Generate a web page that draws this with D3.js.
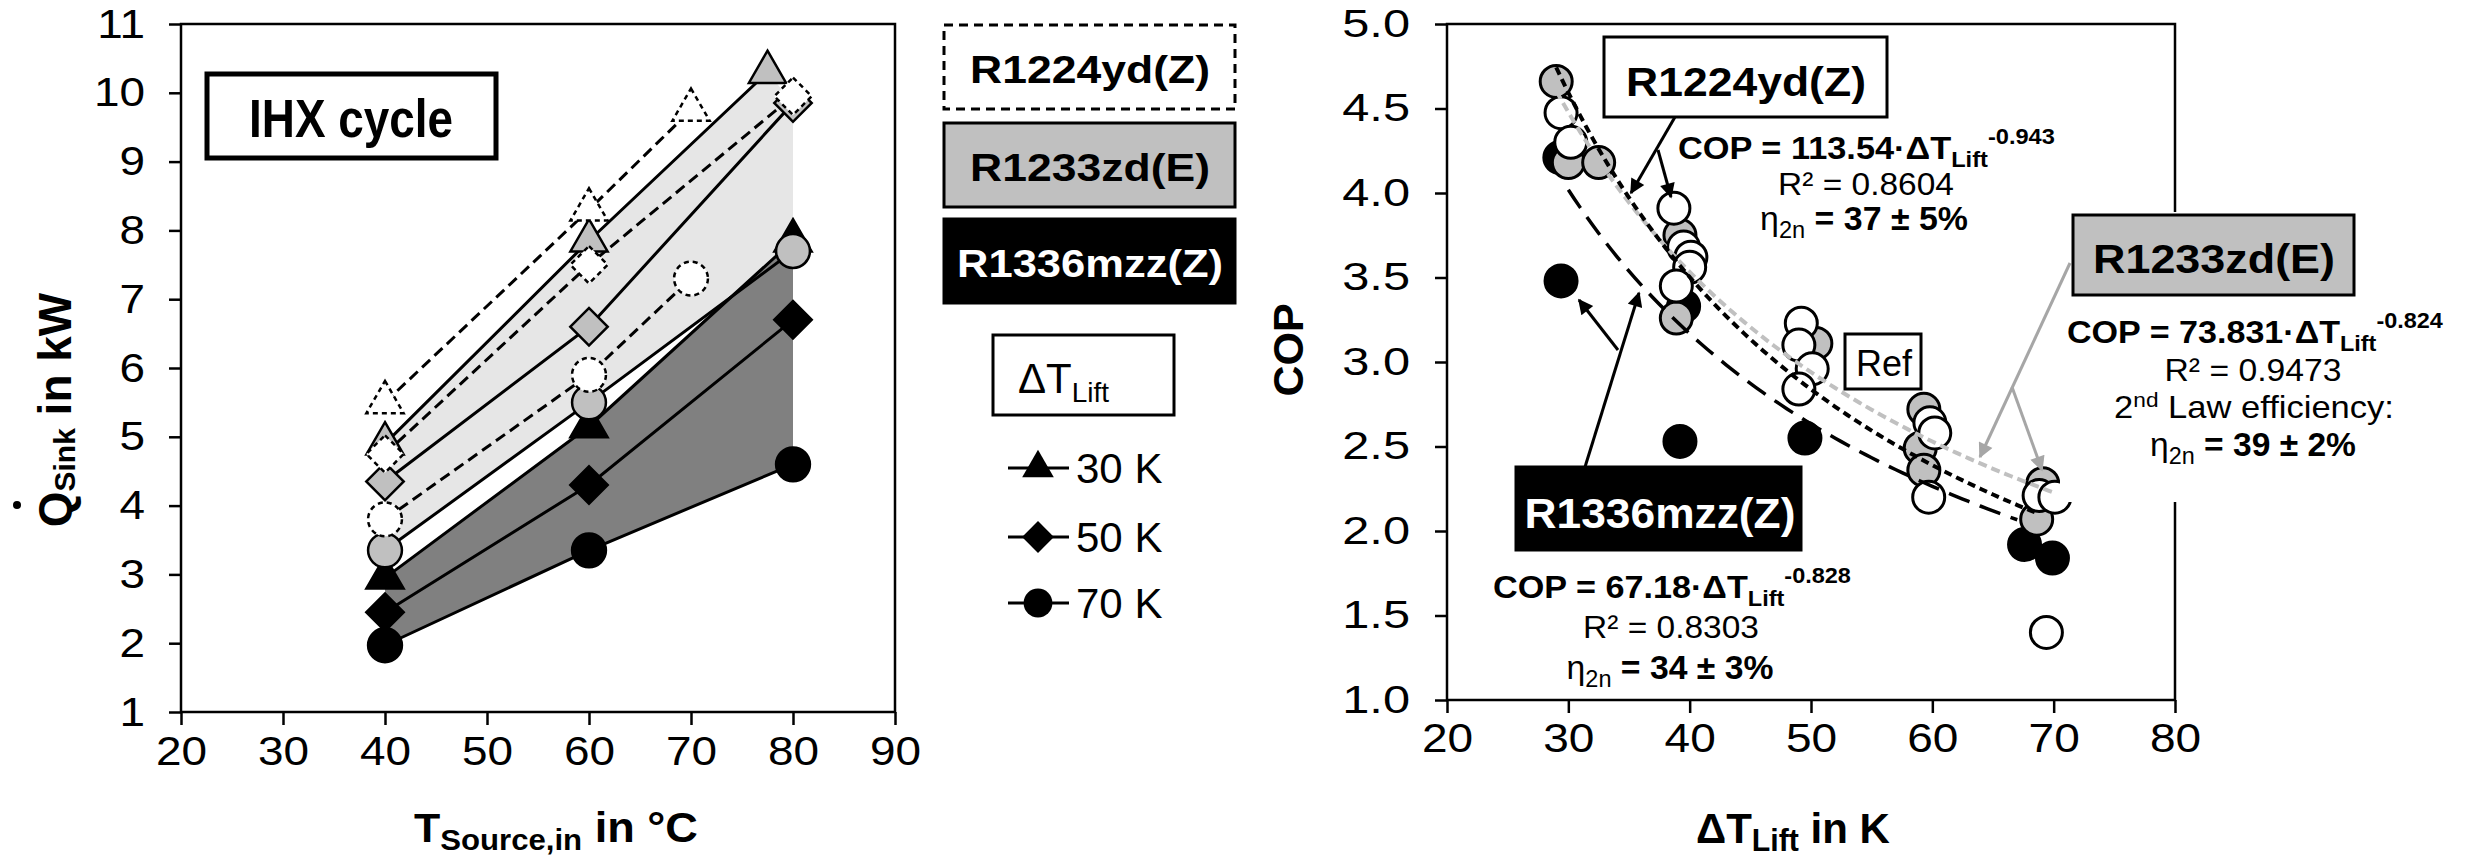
<!DOCTYPE html>
<meta charset="utf-8">
<style>
  body { margin: 0; background: #fff; }
  text { font-family: "Liberation Sans", Arial, sans-serif; }
</style>
<body>
<script src="https://d3js.org/d3.v7.min.js"></script>
<script>
var width = 2468, height = 858;

// ---- left panel: Q_sink vs T_source,in  ([T, Q] per refrigerant and lift)
var r1224_30 = [[40, 5.5], [60, 8.3], [70, 9.75]];
var r1224_50 = [[40, 4.75], [60, 7.5], [80, 9.95]];
var r1224_70 = [[40, 3.8], [60, 5.9], [70, 7.3]];
var r1233_30 = [[40, 4.9], [60, 7.85], [77.5, 10.3]];
var r1233_50 = [[40, 4.35], [60, 6.6], [80, 9.85]];
var r1233_70 = [[40, 3.35], [60, 5.5], [80, 7.7]];
var r1336_30 = [[40, 2.95], [60, 5.15], [80, 7.85]];
var r1336_50 = [[40, 2.45], [60, 4.3], [80, 6.7]];
var r1336_70 = [[40, 1.97], [60, 3.35], [80, 4.6]];
var leftXTicks = [20, 30, 40, 50, 60, 70, 80, 90];
var leftYTicks = [1, 2, 3, 4, 5, 6, 7, 8, 9, 10, 11];
var liftLabels = ["30 K", "50 K", "70 K"];
var refrigerants = ["R1224yd(Z)", "R1233zd(E)", "R1336mzz(Z)"];

// ---- right panel: COP vs lift  ([dT, COP])
var cop_r1336 = [[29.3, 4.21], [29.4, 3.48], [39.5, 3.33], [39.2, 2.53], [49.5, 2.55], [67.6, 1.92], [69.9, 1.84]];
var cop_r1233 = [[29.0, 4.66], [30.0, 4.18], [32.5, 4.18], [39.2, 3.75], [38.9, 3.26], [50.4, 3.11],
                 [59.3, 2.72], [59.0, 2.49], [59.3, 2.36], [69.1, 2.28], [68.6, 2.07]];
var cop_r1224 = [[29.4, 4.475], [30.2, 4.30], [38.7, 3.91], [39.5, 3.68], [40.1, 3.62], [40.0, 3.56],
                 [38.9, 3.45], [49.2, 3.23], [49.0, 3.10], [50.1, 2.96], [49.0, 2.84],
                 [59.8, 2.64], [60.2, 2.58], [59.7, 2.20], [68.8, 2.21], [70.1, 2.20], [69.4, 1.40]];
// power fits shown in the chart: COP = a * dT^b, drawn over [from, to]
var fit_r1224 = [113.54, -0.943, 29, 68.5];
var fit_r1233 = [73.831, -0.824, 29, 70];
var fit_r1336 = [67.18, -0.828, 30, 67];
var rightXTicks = [20, 30, 40, 50, 60, 70, 80];
var rightYTicks = [1.0, 1.5, 2.0, 2.5, 3.0, 3.5, 4.0, 4.5, 5.0];

var GRAY = "#c0c0c0", LIGHT = "#e6e6e6", DARK = "#808080";

var svg = d3.select("body").append("svg")
  .attr("width", width).attr("height", height);

var defs = svg.append("defs");
[["arrowK", "#000"], ["arrowG", "#a6a6a6"]].forEach(function(m) {
  defs.append("marker").attr("id", m[0])
    .attr("viewBox", "0 0 10 10").attr("refX", 9).attr("refY", 5)
    .attr("markerWidth", 6).attr("markerHeight", 5).attr("markerUnits", "strokeWidth")
    .attr("orient", "auto")
    .append("path").attr("d", "M0,0L10,5L0,10z").attr("fill", m[1]);
});

// text helper: parts = [[string, size, bold, dy]], optional target width -> horizontal stretch
function label(parent, x, y, parts, o) {
  o = o || {};
  var g = parent.append("g");
  var t = g.append("text").attr("text-anchor", o.anchor || "start").attr("fill", o.fill || "#000");
  parts.forEach(function(p) {
    t.append("tspan").text(p[0])
      .style("font-size", p[1] + "px")
      .style("font-weight", p[2] ? "bold" : "normal")
      .attr("dy", p[3] || 0);
  });
  var sx = o.sx || 1;
  if (o.width) sx = o.width / t.node().getComputedTextLength();
  g.attr("transform", "translate(" + x + "," + y + ")" + (o.rotate ? " rotate(" + o.rotate + ")" : "") +
    " scale(" + sx + ",1)");
  return g;
}

function stretchTicks(sel, sx) {
  sel.selectAll(".tick text").each(function() {
    var t = d3.select(this);
    t.attr("x", +t.attr("x") / sx).attr("transform", "scale(" + sx + ",1)");
  });
}

// ================= LEFT PANEL =================
var xL = d3.scaleLinear().domain([20, 90]).range([181, 895]);
var yL = d3.scaleLinear().domain([1, 11]).range([712, 24]);
var gL = svg.append("g");

var area = function(top, bottom) {
  return d3.line().x(function(d) { return xL(d[0]); }).y(function(d) { return yL(d[1]); })(top.concat(bottom.slice().reverse())) + "Z";
};
gL.append("path").attr("d", area(r1233_30.concat([r1233_50[2]]), r1233_70)).attr("fill", LIGHT);
gL.append("path").attr("d", area(r1336_30, r1336_70)).attr("fill", DARK);

gL.append("g").attr("transform", "translate(0,712)")
  .call(d3.axisBottom(xL).tickValues(leftXTicks).tickSize(13).tickPadding(11).tickSizeOuter(0))
  .call(function(g) { g.select(".domain").remove(); })
  .call(function(g) { g.selectAll("line").attr("stroke-width", 2.5); g.selectAll("text").style("font-size", "41px"); })
  .call(stretchTicks, 1.12);
gL.append("g").attr("transform", "translate(181,0)")
  .call(d3.axisLeft(yL).tickValues(leftYTicks).tickSize(12).tickPadding(24).tickSizeOuter(0))
  .call(function(g) { g.select(".domain").remove(); })
  .call(function(g) { g.selectAll("line").attr("stroke-width", 2.5); g.selectAll("text").style("font-size", "41px"); })
  .call(stretchTicks, 1.12);
gL.append("rect").attr("x", 181).attr("y", 24).attr("width", 895 - 181).attr("height", 712 - 24)
  .attr("fill", "none").attr("stroke", "#000").attr("stroke-width", 2.5);

var symTri = d3.symbol().type(d3.symbolTriangle).size(600)();
var symDia = d3.symbol().type(d3.symbolSquare).size(700)();
var symCir = d3.symbol().type(d3.symbolCircle).size(900)();
var shapes = [[symTri, 0], [symDia, 45], [symCir, 0]];

var leftSeries = [
  [r1336_30, 0, 2], [r1336_50, 1, 2], [r1336_70, 2, 2],
  [r1233_30, 0, 1], [r1233_50, 1, 1], [r1233_70, 2, 1],
  [r1224_30, 0, 0], [r1224_50, 1, 0], [r1224_70, 2, 0]
];
var fills = ["#fff", GRAY, "#000"];
var lineL = d3.line().x(function(d) { return xL(d[0]); }).y(function(d) { return yL(d[1]); });

leftSeries.forEach(function(s) {
  gL.append("path").attr("d", lineL(s[0])).attr("fill", "none").attr("stroke", "#000")
    .attr("stroke-width", 3).attr("stroke-dasharray", s[2] === 0 ? "11,6" : null);
});
leftSeries.forEach(function(s) {
  gL.selectAll(null).data(s[0]).join("path")
    .attr("d", shapes[s[1]][0])
    .attr("transform", function(d) { return "translate(" + xL(d[0]) + "," + yL(d[1]) + ") rotate(" + shapes[s[1]][1] + ")"; })
    .attr("fill", fills[s[2]]).attr("stroke", "#000").attr("stroke-width", 2.5)
    .attr("stroke-dasharray", s[2] === 0 ? "5,4" : null);
});

// IHX cycle box
gL.append("rect").attr("x", 207).attr("y", 74).attr("width", 289).attr("height", 84)
  .attr("fill", "#fff").attr("stroke", "#000").attr("stroke-width", 5);
label(gL, 351, 137, [["IHX cycle", 53, true]], { anchor: "middle", width: 204 });

// axis titles
label(gL, 414, 842, [["T", 40, true], ["Source,in", 29, true, 8], ["  in °C", 42, true, -8]], { width: 284 });
label(gL, 71, 410, [["Q", 46, true], ["Sink", 30, true, 4], [" in kW", 46, true, -4]], { anchor: "middle", rotate: -90 });
gL.append("circle").attr("cx", 17).attr("cy", 505).attr("r", 4).attr("fill", "#000");

// legend boxes
var legBoxes = [
  [refrigerants[0], 25, "#fff", "#000", "9,6"],
  [refrigerants[1], 123, GRAY, "#000", null],
  [refrigerants[2], 219, "#000", "#fff", null]
];
legBoxes.forEach(function(b) {
  gL.append("rect").attr("x", 944).attr("y", b[1]).attr("width", 291).attr("height", 84)
    .attr("fill", b[2]).attr("stroke", "#000").attr("stroke-width", 3).attr("stroke-dasharray", b[4]);
  label(gL, 1090, b[1] + 58, [[b[0], 38, true]], { anchor: "middle", width: b[0].length > 10 ? 266 : 240, fill: b[3] });
});
gL.append("rect").attr("x", 993).attr("y", 335).attr("width", 181).attr("height", 80)
  .attr("fill", "#fff").attr("stroke", "#000").attr("stroke-width", 3);
label(gL, 1018, 393, [["ΔT", 42, false], ["Lift", 28, false, 9]]);

var legRows = [468, 537, 603];
liftLabels.forEach(function(l, i) {
  gL.append("line").attr("x1", 1008).attr("x2", 1069).attr("y1", legRows[i]).attr("y2", legRows[i])
    .attr("stroke", "#000").attr("stroke-width", 3);
  gL.append("path").attr("d", shapes[i][0])
    .attr("transform", "translate(1038," + legRows[i] + ") rotate(" + shapes[i][1] + ") scale(0.85)")
    .attr("fill", "#000");
  label(gL, 1076, legRows[i] + 15, [[l, 42, false]]);
});

// ================= RIGHT PANEL =================
var xR = d3.scaleLinear().domain([20, 80]).range([1447, 2175]);
var yR = d3.scaleLinear().domain([1, 5]).range([700, 24]);
var gR = svg.append("g");

gR.append("g").attr("transform", "translate(0,700)")
  .call(d3.axisBottom(xR).tickValues(rightXTicks).tickSize(13).tickPadding(11).tickSizeOuter(0))
  .call(function(g) { g.select(".domain").remove(); })
  .call(function(g) { g.selectAll("line").attr("stroke-width", 2.5); g.selectAll("text").style("font-size", "40px"); })
  .call(stretchTicks, 1.15);
gR.append("g").attr("transform", "translate(1447,0)")
  .call(d3.axisLeft(yR).tickValues(rightYTicks).tickSize(12).tickPadding(25).tickFormat(d3.format(".1f")).tickSizeOuter(0))
  .call(function(g) { g.select(".domain").remove(); })
  .call(function(g) { g.selectAll("line").attr("stroke-width", 2.5); g.selectAll("text").style("font-size", "39px"); })
  .call(stretchTicks, 1.25);
gR.append("rect").attr("x", 1447).attr("y", 24).attr("width", 2175 - 1447).attr("height", 700 - 24)
  .attr("fill", "none").attr("stroke", "#000").attr("stroke-width", 2.5);

[[cop_r1336, "#000"], [cop_r1233, GRAY], [cop_r1224, "#fff"]].forEach(function(s) {
  gR.selectAll(null).data(s[0]).join("circle")
    .attr("cx", function(d) { return xR(d[0]); }).attr("cy", function(d) { return yR(d[1]); })
    .attr("r", 16).attr("fill", s[1]).attr("stroke", "#000").attr("stroke-width", 3);
});

function fitPts(f) {
  var pts = [];
  for (var t = f[2]; t <= f[3] + 1e-9; t += 0.5) pts.push([t, f[0] * Math.pow(t, f[1])]);
  return pts;
}
var lineR = d3.line().x(function(d) { return xR(d[0]); }).y(function(d) { return yR(d[1]); });
gR.append("path").attr("d", lineR(fitPts(fit_r1233))).attr("fill", "none").attr("stroke", GRAY)
  .attr("stroke-width", 4).attr("stroke-dasharray", "9,5");
gR.append("path").attr("d", lineR(fitPts(fit_r1224))).attr("fill", "none").attr("stroke", "#000")
  .attr("stroke-width", 4).attr("stroke-dasharray", "8,5");
gR.append("path").attr("d", lineR(fitPts(fit_r1336))).attr("fill", "none").attr("stroke", "#000")
  .attr("stroke-width", 3.5).attr("stroke-dasharray", "22,11");

// white block behind R1233zd(E) annotation (hides frame)
gR.append("rect").attr("x", 2060).attr("y", 212).attr("width", 400).attr("height", 290).attr("fill", "#fff");

function arrow(x1, y1, x2, y2, c) {
  gR.append("line").attr("x1", x1).attr("y1", y1).attr("x2", x2).attr("y2", y2)
    .attr("stroke", c === "g" ? "#a6a6a6" : "#000").attr("stroke-width", 3)
    .attr("marker-end", c === "g" ? "url(#arrowG)" : "url(#arrowK)");
}
arrow(1675, 117, 1631, 193, "k");
arrow(1658, 150, 1671, 197, "k");
arrow(1585, 467, 1639, 293, "k");
arrow(1618, 350, 1579, 300, "k");
arrow(2070, 263, 1980, 457, "g");
arrow(2012, 387, 2042, 470, "g");

function box(x, y, w, h, fill) {
  gR.append("rect").attr("x", x).attr("y", y).attr("width", w).attr("height", h)
    .attr("fill", fill).attr("stroke", "#000").attr("stroke-width", 3);
}
box(1604, 37, 283, 80, "#fff");
label(gR, 1746, 96, [[refrigerants[0], 41, true]], { anchor: "middle", width: 240 });
box(2073, 215, 281, 80, GRAY);
label(gR, 2214, 273, [[refrigerants[1], 41, true]], { anchor: "middle", width: 242 });
box(1516, 467, 285, 83, "#000");
label(gR, 1660, 528, [[refrigerants[2], 43, true]], { anchor: "middle", width: 271, fill: "#fff" });
box(1845, 334, 76, 55, "#fff");
label(gR, 1884, 376, [["Ref", 37, false]], { anchor: "middle", width: 56 });

function eq(x0, x1, y, a, b) {
  label(gR, x0, y, [["COP = " + a + "·ΔT", 32, true], ["Lift", 22, true, 8], [b, 22, true, -23]], { width: x1 - x0 });
}
function eta(cx, w, y, v) {
  label(gR, cx, y, [["η", 33, false], ["2n", 23, false, 8], [" = " + v, 33, true, -8]], { anchor: "middle", width: w });
}
eq(1678, 2055, 159, "113.54", "-0.943");
label(gR, 1866, 195, [["R² = 0.8604", 32, false]], { anchor: "middle", width: 176 });
eta(1864, 208, 230, "37 ± 5%");

eq(2067, 2443, 343, "73.831", "-0.824");
label(gR, 2253, 381, [["R² = 0.9473", 32, false]], { anchor: "middle", width: 177 });
label(gR, 2254, 418, [["2", 32, false], ["nd", 21, false, -11], [" Law efficiency:", 32, false, 11]], { anchor: "middle", width: 280 });
eta(2253, 206, 456, "39 ± 2%");

eq(1493, 1851, 598, "67.18", "-0.828");
label(gR, 1671, 638, [["R² = 0.8303", 32, false]], { anchor: "middle", width: 176 });
eta(1670, 207, 679, "34 ± 3%");

// axis titles
label(gR, 1303, 350, [["COP", 43, true]], { anchor: "middle", rotate: -90 });
label(gR, 1696, 843, [["ΔT", 43, true], ["Lift", 31, true, 8], [" in K", 43, true, -8]], { width: 194 });
</script>
</body>
